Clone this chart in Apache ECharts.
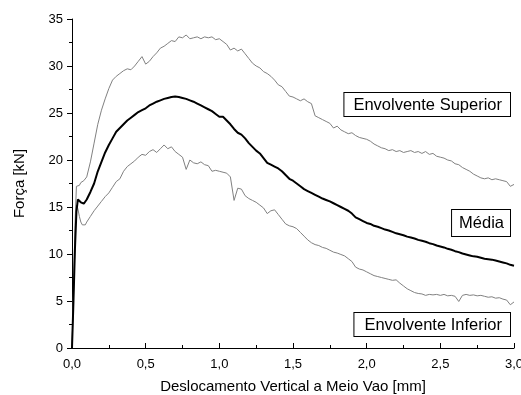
<!DOCTYPE html>
<html>
<head>
<meta charset="utf-8">
<script src="https://cdn.jsdelivr.net/npm/echarts@6/dist/echarts.min.js"></script>
<style>html,body{margin:0;padding:0;background:#fff}#c{width:521px;height:395px}</style>
</head>
<body>
<div id="c"></div>
<script>
var xs = [0,0.01,0.02,0.03,0.04,0.05,0.06,0.07,0.08,0.09,
0.1,0.125,0.15,0.175,0.2,0.225,0.25,0.275,0.3,0.325,
0.35,0.375,0.4,0.425,0.45,0.475,0.5,0.525,0.55,0.575,
0.6,0.625,0.65,0.675,0.7,0.725,0.75,0.775,0.8,0.825,
0.85,0.875,0.9,0.925,0.95,0.975,1.0,1.025,1.05,1.075,
1.1,1.125,1.15,1.175,1.2,1.225,1.25,1.275,1.3,1.325,
1.35,1.375,1.4,1.425,1.45,1.475,1.5,1.525,1.55,1.575,
1.6,1.625,1.65,1.675,1.7,1.725,1.75,1.775,1.8,1.825,
1.85,1.875,1.9,1.925,1.95,1.975,2.0,2.025,2.05,2.075,
2.1,2.125,2.15,2.175,2.2,2.225,2.25,2.275,2.3,2.325,
2.35,2.375,2.4,2.425,2.45,2.475,2.5,2.525,2.55,2.575,
2.6,2.625,2.65,2.675,2.7,2.725,2.75,2.775,2.8,2.825,
2.85,2.875,2.9,2.925,2.95,2.975,3.0];

var superior = [0,6,13,17.2,17.4,17.3,17.6,17.5,17.8,17.6,
18.2,19.8,21.8,23.8,25.3,26.5,27.6,28.5,28.9,29.2,
29.5,29.7,29.6,30.0,30.5,31.0,30.2,30.5,31.0,31.4,
31.9,32.1,32.4,32.7,32.6,33.1,33.0,33.3,32.9,33.0,
33.1,32.9,33.1,33.0,33.1,32.8,32.9,32.6,32.3,31.7,
31.9,31.6,31.8,31.3,30.8,30.3,30.0,29.8,29.4,29.2,
28.9,28.5,28.0,27.8,27.3,26.8,26.7,26.5,26.3,26.5,
26.2,26.0,24.7,24.5,24.3,24.1,23.9,23.4,23.6,23.2,
23.0,22.8,22.9,22.6,22.4,22.3,22.2,22.0,21.7,21.5,
21.3,21.2,21.0,21.1,20.9,21.0,20.8,20.9,21.0,20.8,
20.9,20.7,20.9,20.6,20.7,20.4,20.3,20.2,20.0,19.9,
19.6,19.5,19.2,19.0,18.8,18.5,18.3,18.1,18.0,18.1,
17.9,18.0,17.9,17.8,17.7,17.2,17.4];

var media = [0,5,10.5,14.5,15.8,15.7,15.5,15.3,15.35,15.5,
15.8,16.6,17.5,18.8,19.8,20.8,21.6,22.3,23.0,23.4,
23.8,24.2,24.5,24.8,25.1,25.3,25.5,25.8,26.0,26.2,
26.35,26.5,26.6,26.7,26.75,26.7,26.6,26.5,26.35,26.2,
26.0,25.8,25.6,25.4,25.2,24.9,24.6,24.6,24.2,23.8,
23.3,22.9,22.7,22.3,21.8,21.4,21.0,20.7,20.2,19.7,
19.5,19.3,19.1,18.8,18.4,18.0,17.8,17.5,17.2,16.9,
16.7,16.5,16.3,16.1,15.9,15.75,15.6,15.4,15.2,15.0,
14.8,14.6,14.3,13.9,13.7,13.5,13.3,13.2,13.0,12.9,
12.75,12.6,12.5,12.35,12.2,12.1,12.0,11.85,11.75,11.65,
11.5,11.4,11.3,11.15,11.05,10.9,10.8,10.7,10.55,10.45,
10.3,10.2,10.05,9.95,9.85,9.75,9.7,9.6,9.5,9.45,
9.4,9.3,9.2,9.1,9.0,8.85,8.75];

var inferior = [0,5.5,11,15.2,14.8,14.0,13.4,13.1,13.0,13.1,
13.4,14.0,14.6,15.1,15.6,16.1,16.5,17.1,17.7,18.0,
18.8,19.3,19.6,19.9,20.3,20.6,20.5,20.9,21.1,20.8,
21.2,21.6,21.2,21.4,20.9,20.6,20.3,19.0,20.0,19.7,
19.6,19.8,19.5,19.4,18.8,18.9,18.8,18.7,18.6,18.2,
15.7,17.0,16.9,16.2,15.9,15.7,15.5,15.2,14.9,14.3,
14.6,14.7,14.2,13.7,13.2,13.0,12.9,12.7,12.3,11.9,
11.5,11.2,11.0,10.9,10.7,10.6,10.4,10.2,10.1,9.95,
9.8,9.5,9.2,8.6,8.4,8.3,8.1,7.9,7.7,7.6,
7.5,7.4,7.3,7.2,7.25,6.9,6.6,6.3,6.1,5.9,
5.8,5.75,5.6,5.7,5.65,5.7,5.6,5.7,5.55,5.6,
5.5,4.95,5.6,5.7,5.6,5.65,5.55,5.6,5.5,5.4,
5.45,5.3,5.35,5.2,5.1,4.6,4.9];

var seriesNames = ['Envolvente Superior', 'Média', 'Envolvente Inferior'];

function pairs(ys) { return xs.map(function (x, i) { return [x, ys[i]]; }); }

var chart = echarts.init(document.getElementById('c'), null, {renderer: 'canvas'});
var font = 'Liberation Sans, Arial, sans-serif';
var boxStyle = function (txt, pad) {
  return {
    text: txt, fill: '#000', fontFamily: font, fontSize: 16.5, lineHeight: 18,
    borderColor: '#000', borderWidth: 1, backgroundColor: '#fff', padding: pad
  };
};
chart.setOption({
  animation: false,
  backgroundColor: '#fff',
  grid: {left: 72, right: 7, top: 19, bottom: 47, containLabel: false, outerBoundsMode: 'none'},
  xAxis: {
    type: 'value', min: 0, max: 3, interval: 0.5,
    name: 'Deslocamento Vertical a Meio Vao [mm]', nameLocation: 'middle', nameGap: 31,
    nameTextStyle: {fontFamily: font, fontSize: 15, color: '#000'},
    axisLine: {show: true, lineStyle: {color: '#000', width: 1}},
    axisTick: {show: true, inside: true, length: 5, lineStyle: {color: '#000'}},
    minorTick: {show: true, splitNumber: 2, length: 3, lineStyle: {color: '#000'}},
    axisLabel: {fontFamily: font, fontSize: 13, color: '#000', margin: 10,
      formatter: function (v) { return v.toFixed(1).replace('.', ','); }},
    splitLine: {show: false}
  },
  yAxis: {
    type: 'value', min: 0, max: 35, interval: 5,
    name: 'Força [kN]', nameLocation: 'middle', nameGap: 45, nameRotate: 90,
    nameTextStyle: {fontFamily: font, fontSize: 15, color: '#000'},
    axisLine: {show: true, lineStyle: {color: '#000', width: 1}},
    axisTick: {show: true, inside: false, length: 5, lineStyle: {color: '#000'}},
    minorTick: {show: true, splitNumber: 2, length: 3, lineStyle: {color: '#000'}},
    axisLabel: {fontFamily: font, fontSize: 13, color: '#000', margin: 9},
    splitLine: {show: false}
  },
  series: [
    {name: seriesNames[0], type: 'line', data: pairs(superior), showSymbol: false, symbol: 'none',
      lineStyle: {color: '#808080', width: 1}, z: 2},
    {name: seriesNames[2], type: 'line', data: pairs(inferior), showSymbol: false, symbol: 'none',
      lineStyle: {color: '#808080', width: 1}, z: 2},
    {name: seriesNames[1], type: 'line', data: pairs(media), showSymbol: false, symbol: 'none',
      lineStyle: {color: '#000', width: 2}, z: 3}
  ],
  graphic: [
    {type: 'text', right: 10, top: 92, style: boxStyle(seriesNames[0], [3, 8, 2, 9])},
    {type: 'text', right: 10, top: 209, style: boxStyle(seriesNames[1], [4, 6, 4, 7])},
    {type: 'text', right: 10, top: 312, style: boxStyle(seriesNames[2], [3, 8, 2, 10])}
  ]
});
</script>
</body>
</html>
